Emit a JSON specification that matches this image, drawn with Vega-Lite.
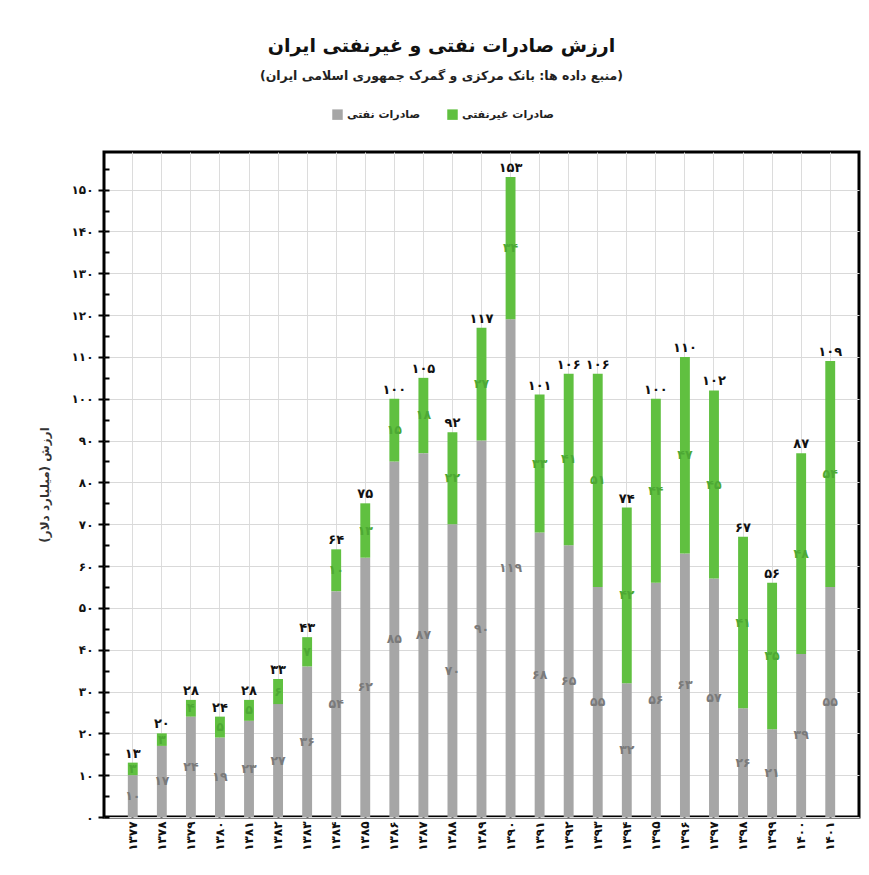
{
  "$schema": "https://vega.github.io/schema/vega-lite/v6.json",
  "width": 755,
  "height": 665,
  "autosize": {"type": "none"},
  "padding": {"left": 104, "top": 152, "right": 10, "bottom": 58},
  "background": "white",
  "config": {
    "font": "DejaVu Sans",
    "locale": {"number": {"decimal": ".", "thousands": ",", "grouping": [3], "currency": ["", ""], "numerals": ["۰","۱","۲","۳","۴","۵","۶","۷","۸","۹"]}},
    "view": {"stroke": "black", "strokeWidth": 3},
    "axis": {"labelFont": "DejaVu Sans", "titleFont": "DejaVu Sans"}
  },
  "title": {
    "text": "ارزش صادرات نفتی و غیرنفتی ایران",
    "subtitle": "\u200f(منبع داده ها: بانک مرکزی و گمرک جمهوری اسلامی ایران)\u200f",
    "fontSize": 19,
    "fontWeight": "bold",
    "subtitleFontSize": 12.5,
    "subtitleFontWeight": "bold",
    "subtitlePadding": 14,
    "anchor": "middle",
    "dx": -40,
    "offset": 27,
    "color": "#111111",
    "subtitleColor": "#222222"
  },
  "data": {
    "values": [
      {"year": "۱۳۷۷", "type": "صادرات نفتی", "value": 10}, {"year": "۱۳۷۷", "type": "صادرات غیرنفتی", "value": 3},
      {"year": "۱۳۷۸", "type": "صادرات نفتی", "value": 17}, {"year": "۱۳۷۸", "type": "صادرات غیرنفتی", "value": 3},
      {"year": "۱۳۷۹", "type": "صادرات نفتی", "value": 24}, {"year": "۱۳۷۹", "type": "صادرات غیرنفتی", "value": 4},
      {"year": "۱۳۸۰", "type": "صادرات نفتی", "value": 19}, {"year": "۱۳۸۰", "type": "صادرات غیرنفتی", "value": 5},
      {"year": "۱۳۸۱", "type": "صادرات نفتی", "value": 23}, {"year": "۱۳۸۱", "type": "صادرات غیرنفتی", "value": 5},
      {"year": "۱۳۸۲", "type": "صادرات نفتی", "value": 27}, {"year": "۱۳۸۲", "type": "صادرات غیرنفتی", "value": 6},
      {"year": "۱۳۸۳", "type": "صادرات نفتی", "value": 36}, {"year": "۱۳۸۳", "type": "صادرات غیرنفتی", "value": 7},
      {"year": "۱۳۸۴", "type": "صادرات نفتی", "value": 54}, {"year": "۱۳۸۴", "type": "صادرات غیرنفتی", "value": 10},
      {"year": "۱۳۸۵", "type": "صادرات نفتی", "value": 62}, {"year": "۱۳۸۵", "type": "صادرات غیرنفتی", "value": 13},
      {"year": "۱۳۸۶", "type": "صادرات نفتی", "value": 85}, {"year": "۱۳۸۶", "type": "صادرات غیرنفتی", "value": 15},
      {"year": "۱۳۸۷", "type": "صادرات نفتی", "value": 87}, {"year": "۱۳۸۷", "type": "صادرات غیرنفتی", "value": 18},
      {"year": "۱۳۸۸", "type": "صادرات نفتی", "value": 70}, {"year": "۱۳۸۸", "type": "صادرات غیرنفتی", "value": 22},
      {"year": "۱۳۸۹", "type": "صادرات نفتی", "value": 90}, {"year": "۱۳۸۹", "type": "صادرات غیرنفتی", "value": 27},
      {"year": "۱۳۹۰", "type": "صادرات نفتی", "value": 119}, {"year": "۱۳۹۰", "type": "صادرات غیرنفتی", "value": 34},
      {"year": "۱۳۹۱", "type": "صادرات نفتی", "value": 68}, {"year": "۱۳۹۱", "type": "صادرات غیرنفتی", "value": 33},
      {"year": "۱۳۹۲", "type": "صادرات نفتی", "value": 65}, {"year": "۱۳۹۲", "type": "صادرات غیرنفتی", "value": 41},
      {"year": "۱۳۹۳", "type": "صادرات نفتی", "value": 55}, {"year": "۱۳۹۳", "type": "صادرات غیرنفتی", "value": 51},
      {"year": "۱۳۹۴", "type": "صادرات نفتی", "value": 32}, {"year": "۱۳۹۴", "type": "صادرات غیرنفتی", "value": 42},
      {"year": "۱۳۹۵", "type": "صادرات نفتی", "value": 56}, {"year": "۱۳۹۵", "type": "صادرات غیرنفتی", "value": 44},
      {"year": "۱۳۹۶", "type": "صادرات نفتی", "value": 63}, {"year": "۱۳۹۶", "type": "صادرات غیرنفتی", "value": 47},
      {"year": "۱۳۹۷", "type": "صادرات نفتی", "value": 57}, {"year": "۱۳۹۷", "type": "صادرات غیرنفتی", "value": 45},
      {"year": "۱۳۹۸", "type": "صادرات نفتی", "value": 26}, {"year": "۱۳۹۸", "type": "صادرات غیرنفتی", "value": 41},
      {"year": "۱۳۹۹", "type": "صادرات نفتی", "value": 21}, {"year": "۱۳۹۹", "type": "صادرات غیرنفتی", "value": 35},
      {"year": "۱۴۰۰", "type": "صادرات نفتی", "value": 39}, {"year": "۱۴۰۰", "type": "صادرات غیرنفتی", "value": 48},
      {"year": "۱۴۰۱", "type": "صادرات نفتی", "value": 55}, {"year": "۱۴۰۱", "type": "صادرات غیرنفتی", "value": 54}
    ]
  },
  "transform": [
    {"stack": "value", "groupby": ["year"], "sort": [{"field": "type", "order": "descending"}], "as": ["v0", "v1"]},
    {"calculate": "(datum.v0 + datum.v1) / 2", "as": "mid"}
  ],
  "layer": [
    {
      "mark": {"type": "bar"},
      "encoding": {
        "x": {
          "field": "year", "type": "ordinal", "title": null,
          "scale": {"paddingInner": 0.66, "paddingOuter": 0.82},
          "axis": {
            "labelAngle": -90, "bandPosition": 0.5, "grid": true, "gridColor": "#dcdcdc", "gridWidth": 1,
            "tickSize": -5, "tickColor": "black", "tickWidth": 2, "domain": false,
            "labelFontWeight": "bold", "labelFontSize": 12, "labelPadding": 9, "labelColor": "#111111"
          }
        },
        "y": {
          "field": "v0", "type": "quantitative",
          "scale": {"domain": [0, 159], "nice": false},
          "axis": {
            "title": "\u200fارزش (میلیارد دلار)\u200f",
            "titleFontSize": 12, "titleFontWeight": "bold", "titleColor": "#333333", "titlePadding": 20,
            "values": [0,10,20,30,40,50,60,70,80,90,100,110,120,130,140,150],
            "format": "d", "tickSize": 6, "tickWidth": 2, "tickColor": "black",
            "grid": true, "gridColor": "#d9d9d9", "domain": false,
            "labelFontWeight": "bold", "labelFontSize": 12, "labelPadding": 5, "labelColor": "#111111"
          }
        },
        "y2": {"field": "v1"},
        "color": {
          "field": "type", "type": "nominal",
          "scale": {"domain": ["صادرات نفتی", "صادرات غیرنفتی"], "range": ["#a6a6a6", "#60c040"]},
          "legend": {
            "title": null, "orient": "none", "direction": "horizontal",
            "legendX": 228, "legendY": -43, "symbolType": "square", "symbolSize": 110,
            "labelFontSize": 11, "labelFontWeight": "bold", "labelColor": "#222222", "columnPadding": 26, "symbolStrokeWidth": 0
          }
        }
      }
    },
    {
      "transform": [{"filter": "datum.type == 'صادرات نفتی'"}],
      "mark": {"type": "text", "fontSize": 12.5, "fontWeight": "bold", "color": "#7a7a7a"},
      "encoding": {
        "x": {"field": "year", "type": "ordinal"},
        "y": {"field": "mid", "type": "quantitative", "axis": null},
        "text": {"field": "value", "type": "quantitative", "format": "d"}
      }
    },
    {
      "transform": [{"filter": "datum.type == 'صادرات غیرنفتی'"}],
      "mark": {"type": "text", "fontSize": 12.5, "fontWeight": "bold", "color": "#4da834"},
      "encoding": {
        "x": {"field": "year", "type": "ordinal"},
        "y": {"field": "mid", "type": "quantitative", "axis": null},
        "text": {"field": "value", "type": "quantitative", "format": "d"}
      }
    },
    {
      "transform": [{"aggregate": [{"op": "sum", "field": "value", "as": "total"}], "groupby": ["year"]}],
      "mark": {"type": "text", "fontSize": 13, "fontWeight": "bold", "color": "#111111", "dy": -9},
      "encoding": {
        "x": {"field": "year", "type": "ordinal"},
        "y": {
          "field": "total", "type": "quantitative",
          "axis": {
            "orient": "left", "title": null, "labels": false, "grid": false, "domain": false,
            "values": [0,5,10,15,20,25,30,35,40,45,50,55,60,65,70,75,80,85,90,95,100,105,110,115,120,125,130,135,140,145,150,155],
            "tickSize": -5, "tickWidth": 2, "tickColor": "black"
          }
        },
        "text": {"field": "total", "type": "quantitative", "format": "d"}
      }
    }
  ],
  "resolve": {"axis": {"y": "independent"}}
}
